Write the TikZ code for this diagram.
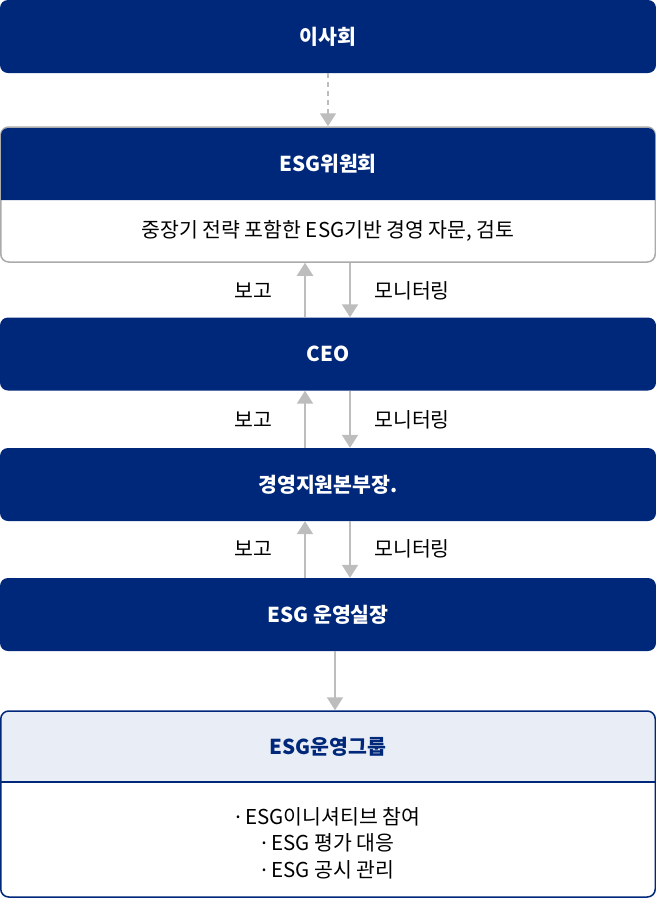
\documentclass[tikz,border=0pt]{standalone}
\usepackage{fontspec}
\setmainfont{Noto Sans CJK KR}
\newfontfamily\dotfont{Noto Sans}
\usetikzlibrary{arrows.meta,positioning}
\definecolor{navy}{HTML}{00287A}
\definecolor{paleblue}{HTML}{E8EDF6}
\definecolor{framegray}{HTML}{ABABAB}
\definecolor{arrowgray}{HTML}{BDBDBD}
\newcommand{\bul}{{\dotfont·}\ }
\tikzset{
  navybox/.style={fill=navy,rounded corners=8pt,text=white,inner sep=0pt,
    minimum width=656pt,minimum height=73pt,font=\bfseries\fontsize{20.5}{24}\selectfont},
  headtext/.style={inner sep=0pt,font=\bfseries\fontsize{20.5}{24}\selectfont},
  bodytext/.style={inner sep=0pt,font=\fontsize{20.5}{26.5}\selectfont,align=center},
  flow/.style={draw=arrowgray,line width=2pt,-{Triangle[width=16pt,length=13pt]}}
}

\begin{document}
\begin{tikzpicture}[x=1pt,y=-1pt]
  \useasboundingbox (0,0) rectangle (656,898);
  % top boxes
  \node[navybox] (board) at (328,36.5) {이사회};

  % ESG committee
  \node[draw=framegray,line width=1.5pt,rounded corners=8pt,inner sep=0pt,
    minimum width=654.5pt,minimum height=135pt] (committee) at (328,194.5) {};
  \fill[navy] (1,200) {[rounded corners=7pt] -- (1,128) -- (655,128)} -- (655,200) -- cycle;
  \node[headtext,text=white] (committeeTitle) at (328,164) {ESG위원회};
  \node[bodytext] (committeeTask) at (328,231) {중장기 전략 포함한 ESG기반 경영 자문, 검토};

  \node[navybox] (ceo) at (328,354) {CEO};
  \node[navybox] (director) at (328,484.5) {경영지원본부장.};
  \node[navybox] (head) at (328,614.5) {ESG 운영실장};

  % ESG group
  \fill[paleblue] (1,782) {[rounded corners=7pt] -- (1,711) -- (655,711)} -- (655,782) -- cycle;
  \draw[navy,line width=1.5pt] (1,782) -- (655,782);
  \node[draw=navy,line width=1.5pt,rounded corners=8pt,inner sep=0pt,
    minimum width=654.5pt,minimum height=186pt] (group) at (328,804) {};
  \node[headtext,text=navy] (groupTitle) at (328,747) {ESG운영그룹};
  \node[bodytext] (groupTasks) at (328,843) {\bul ESG이니셔티브 참여\\\bul ESG 평가 대응\\\bul ESG 공시 관리};

  % connectors
  \draw[flow,dash pattern=on 5pt off 4pt] (board.south) -- (committee.north);
  \foreach \lo/\hi/\y in {ceo/committee/291,director/ceo/420,head/director/549}{
    \draw[flow] ([xshift=-23pt]\lo.north) -- ([xshift=-23pt]\hi.south);
    \draw[flow] ([xshift=22pt]\hi.south) -- ([xshift=22pt]\lo.north);
    \node[bodytext] (report\y) at (253,\y) {보고};
    \node[bodytext] (monitor\y) at (412,\y) {모니터링};
  }
  \draw[flow] ([xshift=7pt]head.south) -- ([xshift=7pt]group.north);
\end{tikzpicture}
\end{document}
